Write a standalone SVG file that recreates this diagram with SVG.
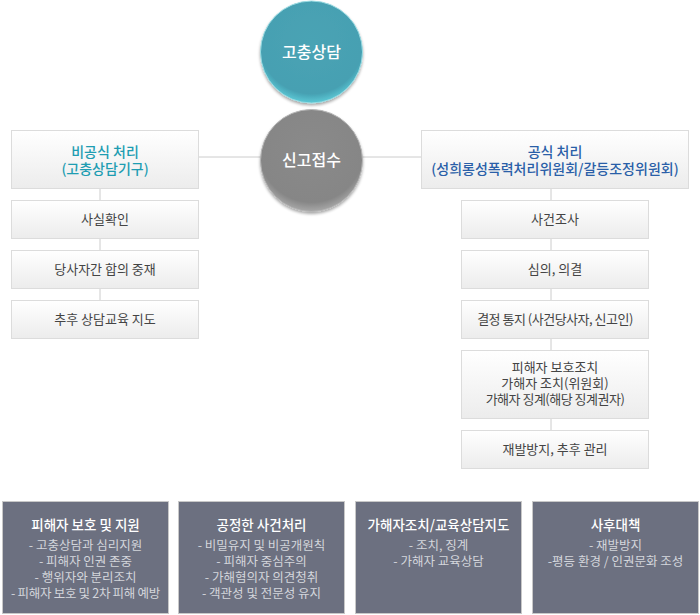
<svg xmlns="http://www.w3.org/2000/svg" width="700" height="615" viewBox="0 0 700 615">
<defs>
<linearGradient id="boxg" x1="0" y1="0" x2="0" y2="1">
<stop offset="0" stop-color="#ffffff"/>
<stop offset="1" stop-color="#ececec"/>
</linearGradient>
<radialGradient id="teal" cx="0.5" cy="0.4" r="0.6">
<stop offset="0" stop-color="#4aa3b4"/>
<stop offset="0.85" stop-color="#46a0b2"/>
<stop offset="1" stop-color="#5cc9d6"/>
</radialGradient>
<radialGradient id="gray" cx="0.5" cy="0.4" r="0.6">
<stop offset="0" stop-color="#8a8a8a"/>
<stop offset="0.85" stop-color="#868686"/>
<stop offset="1" stop-color="#a8a8a8"/>
</radialGradient>
<filter id="sh" x="-10%" y="-10%" width="120%" height="130%">
<feGaussianBlur in="SourceAlpha" stdDeviation="1.5"/>
<feOffset dy="1.5"/>
<feComponentTransfer><feFuncA type="linear" slope="0.35"/></feComponentTransfer>
<feMerge><feMergeNode/><feMergeNode in="SourceGraphic"/></feMerge>
</filter>
</defs>
<style>
text{font-family:"Noto Sans CJK KR","Noto Sans",sans-serif;text-anchor:middle}
.box{fill:url(#boxg);stroke:#dcdcdc;stroke-width:1}
.bt{font-size:13px;fill:#444}
.ct{font-size:16px;fill:#fff;font-weight:500}
.line{stroke:#cccccc;stroke-width:1;fill:none}
.dark{fill:#6c7080;stroke:#c8c8c8;stroke-width:1}
.dt{font-size:13.5px;fill:#fff;font-weight:500}
.di{font-size:12.5px;fill:#d4d6dc}
</style>
<g id="connectors">
<line class="line" x1="198" y1="157" x2="421" y2="157"/>
<line class="line" x1="100" y1="188" x2="100" y2="300"/>
<line class="line" x1="551" y1="188" x2="551" y2="430"/>
</g>
<g id="node-gochung">
<circle cx="311.5" cy="52" r="51" fill="url(#teal)" stroke="#9adbe2" stroke-width="1" filter="url(#sh)"/>
<text class="ct" x="311.5" y="58">고충상담</text>
</g>
<g id="node-singo">
<circle cx="311.5" cy="160.5" r="51" fill="url(#gray)" stroke="#b5b5b5" stroke-width="1" filter="url(#sh)"/>
<text class="ct" x="311.5" y="166">신고접수</text>
</g>
<g id="node-informal">
<rect class="box" x="11.5" y="130.5" width="187" height="58"/>
<text x="105" y="157" style="font-size:14px;fill:#1e9db2;font-weight:500">비공식 처리</text>
<text x="105" y="174" style="font-size:14px;fill:#1e9db2;font-weight:500">(고충상담기구)</text>
</g>
<g id="node-fact">
<rect class="box" x="11.5" y="200.5" width="187" height="38"/>
<text class="bt" x="105" y="224">사실확인</text>
</g>
<g id="node-mediation">
<rect class="box" x="11.5" y="250.5" width="187" height="38"/>
<text class="bt" x="105" y="274">당사자간 합의 중재</text>
</g>
<g id="node-followup-left">
<rect class="box" x="11.5" y="300.5" width="187" height="38"/>
<text class="bt" x="105" y="324">추후 상담교육 지도</text>
</g>
<g id="node-formal">
<rect class="box" x="421.5" y="130.5" width="267" height="58"/>
<text x="555" y="157" style="font-size:14px;fill:#2a5fa8;font-weight:500">공식 처리</text>
<text x="555" y="174" style="font-size:14px;fill:#2a5fa8;font-weight:500">(성희롱성폭력처리위원회/갈등조정위원회)</text>
</g>
<g id="node-investigation">
<rect class="box" x="461.5" y="200.5" width="187" height="38"/>
<text class="bt" x="555" y="224">사건조사</text>
</g>
<g id="node-deliberation">
<rect class="box" x="461.5" y="250.5" width="187" height="38"/>
<text class="bt" x="555" y="274">심의, 의결</text>
</g>
<g id="node-notice">
<rect class="box" x="461.5" y="300.5" width="187" height="38"/>
<text class="bt" x="555" y="324" style="letter-spacing:-0.5px">결정 통지 (사건당사자, 신고인)</text>
</g>
<g id="node-measures">
<rect class="box" x="461.5" y="350.5" width="187" height="68"/>
<text class="bt" x="555" y="372">피해자 보호조치</text>
<text class="bt" x="555" y="388">가해자 조치(위원회)</text>
<text class="bt" x="555" y="404" style="letter-spacing:-0.5px">가해자 징계(해당 징계권자)</text>
</g>
<g id="node-prevention">
<rect class="box" x="461.5" y="430.5" width="187" height="38"/>
<text class="bt" x="555" y="454">재발방지, 추후 관리</text>
</g>
<g id="panel-victim">
<rect class="dark" x="2.5" y="501.5" width="166" height="112"/>
<text class="dt" x="85.5" y="530">피해자 보호 및 지원</text>
<text class="di" x="85.5" y="550">- 고충상담과 심리지원</text>
<text class="di" x="85.5" y="566">- 피해자 인권 존중</text>
<text class="di" x="85.5" y="582">- 행위자와 분리조치</text>
<text class="di" x="85.5" y="598" style="letter-spacing:-0.3px">- 피해자 보호 및 2차 피해 예방</text>
</g>
<g id="panel-fair">
<rect class="dark" x="178.5" y="501.5" width="166" height="112"/>
<text class="dt" x="261.5" y="530">공정한 사건처리</text>
<text class="di" x="261.5" y="550">- 비밀유지 및 비공개원칙</text>
<text class="di" x="261.5" y="566">- 피해자 중심주의</text>
<text class="di" x="261.5" y="582">- 가해혐의자 의견청취</text>
<text class="di" x="261.5" y="598">- 객관성 및 전문성 유지</text>
</g>
<g id="panel-offender">
<rect class="dark" x="355.5" y="501.5" width="166" height="112"/>
<text class="dt" x="438.5" y="530">가해자조치/교육상담지도</text>
<text class="di" x="438.5" y="550">- 조치, 징계</text>
<text class="di" x="438.5" y="566">- 가해자 교육상담</text>
</g>
<g id="panel-after">
<rect class="dark" x="532.5" y="501.5" width="166" height="112"/>
<text class="dt" x="615.5" y="530">사후대책</text>
<text class="di" x="615.5" y="550">- 재발방지</text>
<text class="di" x="615.5" y="566">-평등 환경 / 인권문화 조성</text>
</g>
</svg>
